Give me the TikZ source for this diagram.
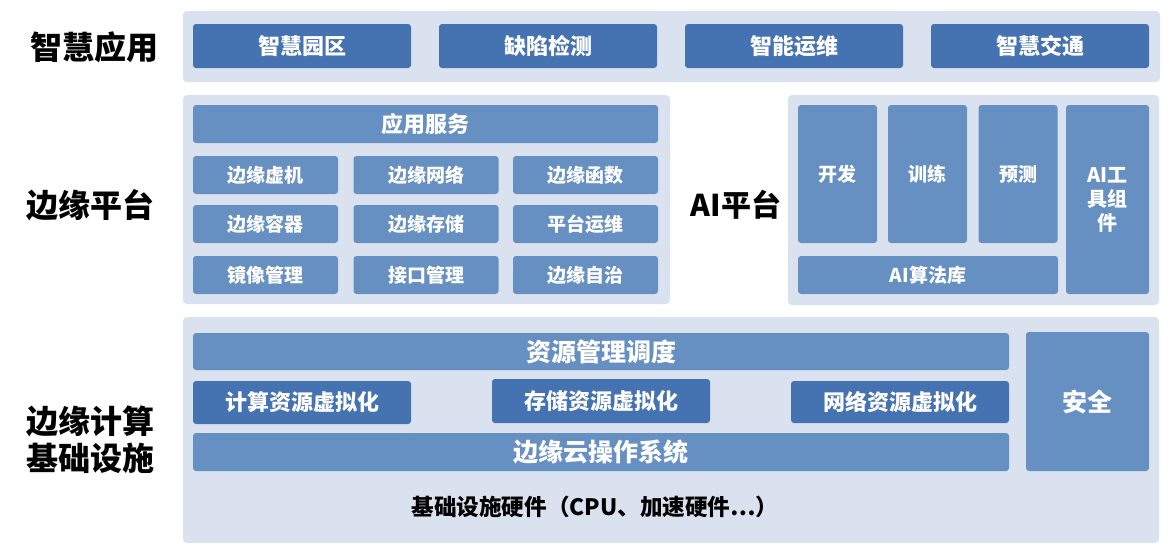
\documentclass[tikz,border=0pt]{standalone}
\usepackage{fontspec}
\newfontfamily\cjk{Noto Sans CJK SC}
\definecolor{panelbg}{HTML}{DAE2F0}
\definecolor{darkblue}{HTML}{4572B0}
\definecolor{midblue}{HTML}{6790C2}
\begin{document}
\begin{tikzpicture}[x=0.5pt, y=-0.5pt,
    every node/.style={inner sep=0pt, font=\cjk\bfseries},
    panel/.style={rectangle, rounded corners=2pt, fill=panelbg},
    dbox/.style={rectangle, rounded corners=1.5pt, fill=darkblue, text=white, font=\cjk\bfseries\fontsize{11}{13}\selectfont},
    mbox/.style={rectangle, rounded corners=1.5pt, fill=midblue, text=white, font=\cjk\bfseries\fontsize{11}{13}\selectfont},
    bbox/.style={mbox, font=\cjk\bfseries\fontsize{12.5}{15}\selectfont},
    sbox/.style={mbox, font=\cjk\bfseries\fontsize{9.5}{11.5}\selectfont},
    layer/.style={font=\cjk\bfseries\fontsize{16}{18.5}\selectfont, align=center}]
        \useasboundingbox (0,0) rectangle (1172,554);
        % layer titles
        \node[layer] (LApp) at (94,47) {智慧应用};
        \node[layer] (LEdge) at (90,205) {边缘平台};
        \node[layer] (LInfra) at (90,440) {边缘计算\\基础设施};
        % panels
        \node[panel, minimum width=488.5pt, minimum height=35.5pt] (PApp) at (671.5,46.5) {};
        \node[panel, minimum width=243.5pt, minimum height=104.5pt] (PEdge) at (426.5,199.5) {};
        \node[panel, minimum width=185.5pt, minimum height=105pt] (PAI) at (973.5,200) {};
        \node[panel, minimum width=488pt, minimum height=113pt] (PInfra) at (671,430) {};
        % smart applications
        \node[dbox, minimum width=109pt, minimum height=22pt] (A1) at (302,46) {智慧园区};
        \node[dbox, minimum width=109pt, minimum height=22pt] (A2) at (548,46) {缺陷检测};
        \node[dbox, minimum width=109pt, minimum height=22pt] (A3) at (794,46) {智能运维};
        \node[dbox, minimum width=109pt, minimum height=22pt] (A4) at (1040,46) {智慧交通};
        % edge platform
        \node[mbox, minimum width=232.5pt, minimum height=19pt] (Srv) at (425.5,124) {应用服务};
        \node[sbox, minimum width=72.5pt, minimum height=19pt] (E11) at (265.5,175) {边缘虚机};
        \node[sbox, minimum width=72.5pt, minimum height=19pt] (E12) at (426,175) {边缘网络};
        \node[sbox, minimum width=72.5pt, minimum height=19pt] (E13) at (585.5,175) {边缘函数};
        \node[sbox, minimum width=72.5pt, minimum height=19pt] (E21) at (265.5,224) {边缘容器};
        \node[sbox, minimum width=72.5pt, minimum height=19pt] (E22) at (426,224) {边缘存储};
        \node[sbox, minimum width=72.5pt, minimum height=19pt] (E23) at (585.5,224) {平台运维};
        \node[sbox, minimum width=72.5pt, minimum height=19pt] (E31) at (265.5,275) {镜像管理};
        \node[sbox, minimum width=72.5pt, minimum height=19pt] (E32) at (426,275) {接口管理};
        \node[sbox, minimum width=72.5pt, minimum height=19pt] (E33) at (585.5,275) {边缘自治};
        % AI platform
        \node[layer, font=\cjk\bfseries\fontsize{15}{18}\selectfont] (LAI) at (736,205) {AI平台};
        \node[sbox, minimum width=39.5pt, minimum height=69pt] (Dev) at (837.5,174) {开发};
        \node[sbox, minimum width=39.5pt, minimum height=69pt] (Train) at (927.5,174) {训练};
        \node[sbox, minimum width=39.5pt, minimum height=69pt] (Pred) at (1018,174) {预测};
        \node[sbox, minimum width=41.5pt, minimum height=94.5pt, align=center, font=\cjk\bfseries\fontsize{10}{12}\selectfont] (Tool) at (1107.5,199.5) {AI工\\具组\\件};
        \node[sbox, minimum width=130pt, minimum height=19pt] (Algo) at (928,275) {AI算法库};
        % edge computing infrastructure
        \node[bbox, minimum width=408pt, minimum height=18.5pt] (Sched) at (601,351.5) {资源管理调度};
        \node[dbox, minimum width=109pt, minimum height=21.5pt] (VC) at (302,402.5) {计算资源虚拟化};
        \node[dbox, minimum width=109pt, minimum height=22pt] (VS) at (601,401) {存储资源虚拟化};
        \node[dbox, minimum width=109pt, minimum height=21pt] (VN) at (900,402) {网络资源虚拟化};
        \node[bbox, minimum width=408pt, minimum height=19pt] (OS) at (601,452) {边缘云操作系统};
        \node[bbox, minimum width=61.5pt, minimum height=69.5pt] (Sec) at (1087.5,401.5) {安全};
        \node[font=\cjk\bfseries\fontsize{11.3}{13}\selectfont] (HW) at (595,507) {基础设施硬件（CPU、加速硬件…）};
    \end{tikzpicture}
\end{document}
